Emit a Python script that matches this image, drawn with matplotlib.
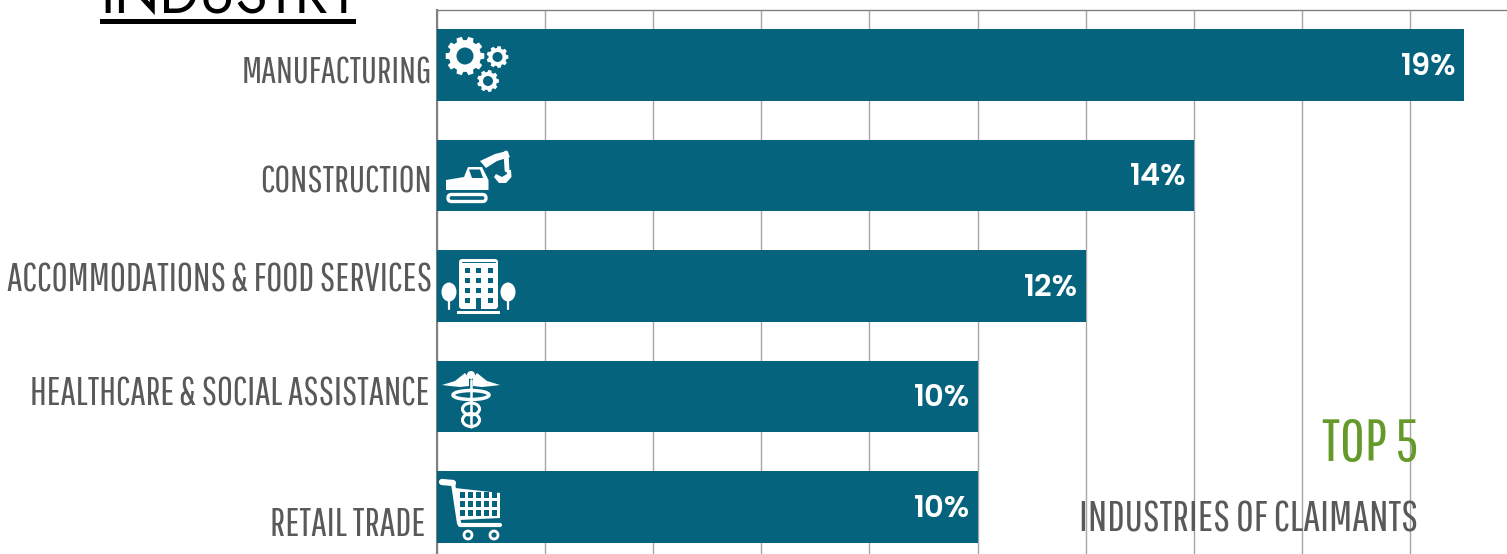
#!/usr/bin/python3

import numpy as np
import matplotlib
matplotlib.use('Agg')
import matplotlib.pyplot as plt
from matplotlib.patches import Circle, Ellipse, FancyBboxPatch, Polygon, Rectangle
from matplotlib.lines import Line2D
from matplotlib.transforms import Affine2D

# Chart data
industries = ['MANUFACTURING', 'CONSTRUCTION', 'ACCOMMODATIONS & FOOD SERVICES',
	'HEALTHCARE & SOCIAL ASSISTANCE', 'RETAIL TRADE']
shares = [19, 14, 12, 10, 10]
value_labels = ['19%', '14%', '12%', '10%', '10%']
x_ticks = [0, 2, 4, 6, 8, 10, 12, 14, 16, 18, 20]

# Category label anchors, picture pixels, and sizes to fit the wider tracking
label_right = [432, 432, 432, 429, 425]
label_mid = [73, 182, 281, 395, 525]
label_size = [27, 27.6, 28.1, 27.8, 28.4]

W, H = 1507, 554
BAR = '#05637d'
GREY = '#595959'
GRID = '#a6a6a6'
GREEN = '#659a2b'
NARROW = ['Pathway Gothic One', 'Liberation Sans']
ROUND = ['Jost', 'Lato', 'Liberation Sans']
VALUE = ['Poppins', 'Lato', 'Liberation Sans']

fig = plt.figure(figsize=(W / 100, H / 100), dpi=100, facecolor='white')

# Axes run past the right and bottom edges of the picture
ax = fig.add_axes([437 / W, (H - 562) / H, 1081 / W, 552 / H])
ypos = np.arange(len(shares))
ax.barh(ypos, shares, height=0.65, color=BAR, zorder=3)
ax.set_xlim(0, 20)
ax.set_ylim(len(shares) - 0.5, -0.5)
ax.set_xticks(x_ticks)
ax.set_yticks([])
ax.tick_params(axis='x', length=0, labelbottom=False)
ax.grid(axis='x', color=GRID, linewidth=1, zorder=0)
for side in ['top', 'right', 'bottom']:
	ax.spines[side].set_color('#808080')
	ax.spines[side].set_linewidth(1)
ax.spines['left'].set_color('#808080')
ax.spines['left'].set_linewidth(1.5)

for i, label in enumerate(value_labels):
	ax.annotate(label, (shares[i], i), xytext=(-5.5, -2), textcoords='offset points',
		ha='right', va='center', color='white', fontsize=22, fontweight=600,
		family=VALUE, zorder=5)

# Everything below is placed in picture pixels, y going down
px = Affine2D().scale(1 / W, -1 / H).translate(0, 1) + fig.transFigure

for name, xr, ym, size in zip(industries, label_right, label_mid, label_size):
	fig.text(xr, ym, name, transform=px, ha='right', va='center', color=GREY,
		fontsize=size, family=NARROW)

fig.text(100, 13, 'INDUSTRY', transform=px, ha='left', va='baseline', color='black',
	fontsize=42, family=ROUND)
fig.add_artist(Rectangle((100, 19), 256, 5, transform=px, color='black', lw=0))

fig.text(1418, 445, 'TOP 5', transform=px, ha='right', va='center', color=GREEN,
	fontsize=43.5, family=NARROW)
fig.text(1418, 520, 'INDUSTRIES OF CLAIMANTS', transform=px, ha='right', va='center', color=GREY,
	fontsize=30.8, family=NARROW)


#
def add(patch):
	patch.set_transform(px)
	patch.set_zorder(10)
	fig.add_artist(patch)


#
def stroke(xs, ys, lw, color='white'):
	fig.add_artist(Line2D(xs, ys, transform=px, color=color, linewidth=lw,
		solid_capstyle='round', zorder=10))


#
def gear(cx, cy, r, hole, teeth):
	# Square toothed wheel
	step = 2 * np.pi / teeth
	pts = []
	for k in range(teeth):
		a = k * step
		for da, rad in [(-0.30, 0.82), (-0.20, 1.0), (0.20, 1.0), (0.30, 0.82)]:
			t = a + da * step * 1.1
			pts.append((cx + rad * r * np.cos(t), cy + rad * r * np.sin(t)))
	add(Polygon(pts, closed=True, fc='white', ec='none'))
	add(Circle((cx, cy), hole, fc=BAR, ec='none'))


#
def draw_gears():
	gear(465, 56, 19.5, 8.5, 10)
	gear(497.5, 57, 11, 5, 9)
	gear(488, 81, 11, 5, 9)


#
def draw_excavator():
	add(Polygon([(446, 180), (464, 177), (468, 167), (482, 167), (488.5, 180),
		(488.5, 190), (446, 190)], closed=True, fc='white', ec='none'))
	add(Polygon([(469, 169.5), (480, 169.5), (483, 178), (472, 178)], closed=True, fc=BAR, ec='none'))
	add(FancyBboxPatch((448, 194.5), 38, 7, boxstyle='round,pad=0,rounding_size=3.5',
		fc='none', ec='white', lw=2.4))
	add(Polygon([(480, 161), (495, 154), (507, 151), (510, 157), (497, 161), (486, 168)],
		closed=True, fc='white', ec='none'))
	stroke([506, 507], [153, 170], 3.5)
	add(Polygon([(511, 170), (511.5, 177), (506, 183), (499, 183), (494, 177), (496, 174),
		(502, 177), (507, 174), (507, 170)], closed=True, fc='white', ec='none'))


#
def draw_building():
	add(FancyBboxPatch((459, 259), 39, 50, boxstyle='round,pad=0,rounding_size=3',
		fc='white', ec='none'))
	stroke([462, 495], [262, 262], 0.7, BAR)
	add(Rectangle((457, 311), 43, 3, fc='white', ec='none'))
	for wx in [464.5, 476, 488]:
		for wy in [268, 278, 288, 298]:
			add(Rectangle((wx, wy), 5, 5, fc=BAR, ec='none'))
	add(Rectangle((476, 298), 5, 11, fc=BAR, ec='none'))
	for tx in [449, 508]:
		add(Ellipse((tx, 292), 15, 19, fc='white', ec='none'))
		stroke([tx, tx], [292, 309], 1.6)


#
def draw_caduceus():
	add(Circle((471, 375), 4, fc='white', ec='none'))
	add(Polygon([(442, 385), (455, 381), (465, 373), (469, 378), (469, 386), (460, 387), (450, 386)],
		closed=True, fc='white', ec='none'))
	add(Polygon([(500, 385), (487, 381), (477, 373), (473, 378), (473, 386), (482, 387), (492, 386)],
		closed=True, fc='white', ec='none'))
	stroke([471, 471], [380, 427], 1.8)
	add(Ellipse((471, 395), 36, 9, fc='none', ec='white', lw=2.5))
	add(Ellipse((471, 409), 17, 12, fc='none', ec='white', lw=2.2))
	add(Ellipse((471, 420), 17, 13, fc='none', ec='white', lw=2.2))


#
def draw_cart():
	stroke([442, 453], [482, 483], 4.5)
	stroke([453, 459, 460, 500], [483, 523, 525, 525], 3)
	add(Polygon([(455, 488), (500, 493), (500, 518), (460, 520)], closed=True, fc='white', ec='none'))
	for col in range(5):
		for row in range(3):
			cx = 459.5 + col * 8
			cy = 492 + row * 9
			add(Rectangle((cx, cy), 5.5, 6, fc=BAR, ec='none'))
	add(Circle((468, 535), 4, fc='none', ec='white', lw=2))
	add(Circle((494, 535), 4, fc='none', ec='white', lw=2))


draw_gears()
draw_excavator()
draw_building()
draw_caduceus()
draw_cart()

fig.savefig('out.png', dpi=100)
